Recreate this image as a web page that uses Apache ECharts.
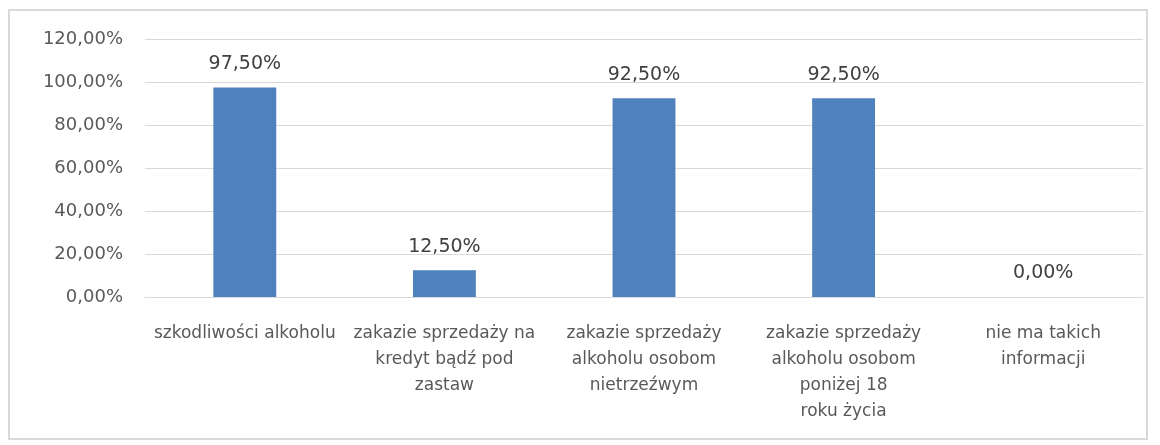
<!DOCTYPE html>
<html>
<head>
<meta charset="utf-8">
<script src="https://cdn.jsdelivr.net/npm/echarts@6/dist/echarts.min.js"></script>
<style>
  html, body { margin: 0; padding: 0; background: #ffffff; }
  #frame { position: absolute; left: 8px; top: 9px; width: 1140px; height: 431px; border: 2px solid #d9d9d9; box-sizing: border-box; }
  #chart { position: absolute; left: 0; top: 0; width: 1160px; height: 445px; }
</style>
</head>
<body>
<div id="frame"></div>
<div id="chart"></div>
<script>
// Categories (line breaks as they wrap under the axis)
const categories = [
  'szkodliwości alkoholu',
  'zakazie sprzedaży na\nkredyt bądź pod\nzastaw',
  'zakazie sprzedaży\nalkoholu osobom\nnietrzeźwym',
  'zakazie sprzedaży\nalkoholu osobom\nponiżej 18\nroku życia',
  'nie ma takich\ninformacji'
];
// Share of answers, in percent
const values = [97.5, 12.5, 92.5, 92.5, 0];
// Value axis range and step
const yMin = 0, yMax = 120, yStep = 20;

const fmt = v => v.toFixed(2).replace('.', ',') + '%';
const FONT = 'DejaVu Sans';

const chart = echarts.init(document.getElementById('chart'), null, { renderer: 'canvas' });
chart.setOption({
  animation: false,
  grid: { left: 145, right: 17, top: 39, bottom: 148 },
  xAxis: {
    type: 'category',
    data: categories,
    axisTick: { show: false },
    axisLine: { show: true, lineStyle: { color: '#d9d9d9', width: 1 } },
    axisLabel: {
      interval: 0, margin: 24, color: '#595959',
      fontFamily: FONT, fontSize: 17, lineHeight: 26, align: 'center'
    }
  },
  yAxis: {
    type: 'value', min: yMin, max: yMax, interval: yStep,
    axisLine: { show: false }, axisTick: { show: false },
    splitLine: { lineStyle: { color: '#d9d9d9', width: 1 } },
    axisLabel: { formatter: fmt, color: '#595959', fontFamily: FONT, fontSize: 18, margin: 22 }
  },
  series: [{
    type: 'bar',
    data: values,
    barWidth: '31.5%',
    itemStyle: { color: '#4f81bd' },
    label: {
      show: true, position: 'top', distance: 14,
      formatter: p => fmt(p.value),
      color: '#404040', fontFamily: FONT, fontSize: 19
    }
  }]
});
</script>
</body>
</html>
